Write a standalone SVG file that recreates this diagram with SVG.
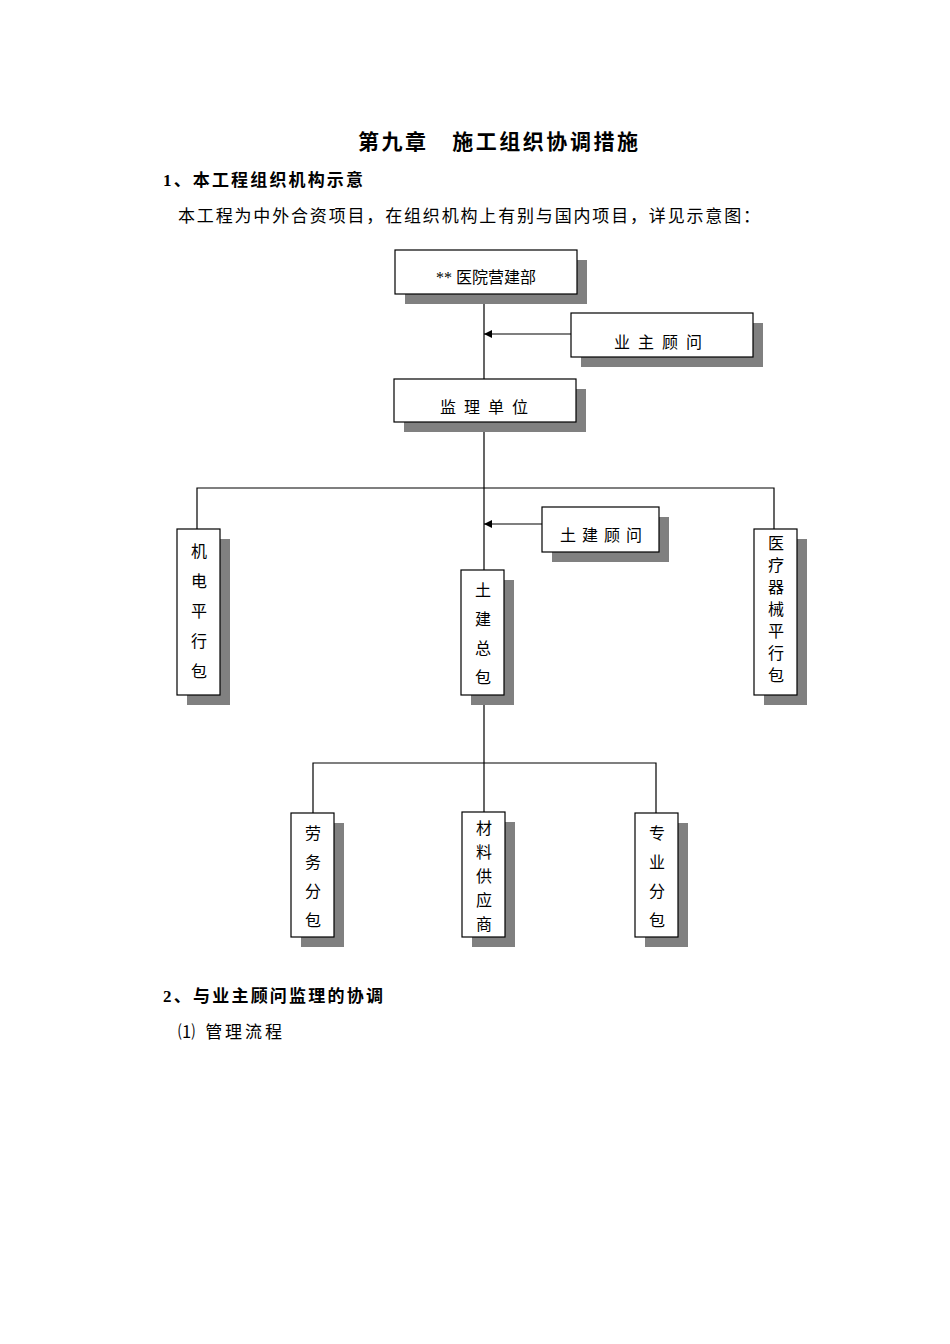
<svg xmlns="http://www.w3.org/2000/svg" width="950" height="1344" viewBox="0 0 950 1344">
<defs>
<style>
.sh{fill:#808080}
.bx{fill:#fff;stroke:#000;stroke-width:1.2}
.t{font-family:"Liberation Serif","Noto Sans CJK SC",serif;font-size:16px;fill:#000}
.c{text-anchor:middle}
.ln{stroke:#000;stroke-width:1.2;fill:none}
</style>
<marker id="ar" viewBox="0 0 10 10" refX="10" refY="5" markerWidth="8" markerHeight="8" orient="auto" markerUnits="userSpaceOnUse"><path d="M0,0L10,5L0,10z" fill="#000"/></marker>
</defs>
<rect width="950" height="1344" fill="#fff"/>
<text x="498" y="149" class="t c" style="font-size:21px;font-weight:bold" textLength="280" lengthAdjust="spacing">第九章　施工组织协调措施</text>
<text x="163" y="186" class="t" style="font-size:17px;font-weight:bold" textLength="200" lengthAdjust="spacing">1、本工程组织机构示意</text>
<text x="178" y="222" class="t" style="font-size:17px" textLength="582" lengthAdjust="spacing">本工程为中外合资项目，在组织机构上有别与国内项目，详见示意图：</text>
<text x="163" y="1002" class="t" style="font-size:17px;font-weight:bold" textLength="220" lengthAdjust="spacing">2、与业主顾问监理的协调</text>
<text x="178" y="1038" class="t" style="font-size:17px" textLength="104" lengthAdjust="spacing">⑴ 管理流程</text>
<g id="connectors">
<path class="ln" d="M484,294V379M484,422V570M197,529V488H774V529M484,695V812M313,813V763H656V813"/>
<path class="ln" d="M571,334H484" marker-end="url(#ar)"/>
<path class="ln" d="M542,524H484" marker-end="url(#ar)"/>
</g>
<g id="n1"><rect class="sh" x="405" y="260" width="182" height="44"/><rect class="bx" x="395" y="250" width="182" height="44"/><text x="486" y="283" class="t c">** 医院营建部</text></g>
<g id="n2"><rect class="sh" x="581" y="323" width="182" height="44"/><rect class="bx" x="571" y="313" width="182" height="44"/><text x="662" y="348" class="t c" letter-spacing="8">业主顾问</text></g>
<g id="n3"><rect class="sh" x="404" y="389" width="182" height="43"/><rect class="bx" x="394" y="379" width="182" height="43"/><text x="488" y="413" class="t c" letter-spacing="8">监理单位</text></g>
<g id="n4"><rect class="sh" x="552" y="517" width="117" height="45"/><rect class="bx" x="542" y="507" width="117" height="45"/><text x="604" y="541" class="t c" letter-spacing="6">土建顾问</text></g>
<g id="n5"><rect class="sh" x="187" y="539" width="43" height="166"/><rect class="bx" x="177" y="529" width="43" height="166"/><text class="t c"><tspan x="199" y="557">机</tspan><tspan x="199" y="587">电</tspan><tspan x="199" y="617">平</tspan><tspan x="199" y="647">行</tspan><tspan x="199" y="677">包</tspan></text></g>
<g id="n6"><rect class="sh" x="471" y="580" width="43" height="125"/><rect class="bx" x="461" y="570" width="43" height="125"/><text class="t c"><tspan x="483" y="596">土</tspan><tspan x="483" y="625">建</tspan><tspan x="483" y="654">总</tspan><tspan x="483" y="683">包</tspan></text></g>
<g id="n7"><rect class="sh" x="764" y="539" width="43" height="166"/><rect class="bx" x="754" y="529" width="43" height="166"/><text class="t c"><tspan x="776" y="549">医</tspan><tspan x="776" y="571">疗</tspan><tspan x="776" y="593">器</tspan><tspan x="776" y="615">械</tspan><tspan x="776" y="637">平</tspan><tspan x="776" y="659">行</tspan><tspan x="776" y="681">包</tspan></text></g>
<g id="n8"><rect class="sh" x="301" y="823" width="43" height="124"/><rect class="bx" x="291" y="813" width="43" height="124"/><text class="t c"><tspan x="313" y="839">劳</tspan><tspan x="313" y="868">务</tspan><tspan x="313" y="897">分</tspan><tspan x="313" y="926">包</tspan></text></g>
<g id="n9"><rect class="sh" x="472" y="822" width="43" height="125"/><rect class="bx" x="462" y="812" width="43" height="125"/><text class="t c"><tspan x="484" y="834">材</tspan><tspan x="484" y="858">料</tspan><tspan x="484" y="882">供</tspan><tspan x="484" y="906">应</tspan><tspan x="484" y="930">商</tspan></text></g>
<g id="n10"><rect class="sh" x="645" y="823" width="43" height="124"/><rect class="bx" x="635" y="813" width="43" height="124"/><text class="t c"><tspan x="657" y="839">专</tspan><tspan x="657" y="868">业</tspan><tspan x="657" y="897">分</tspan><tspan x="657" y="926">包</tspan></text></g>
</svg>
